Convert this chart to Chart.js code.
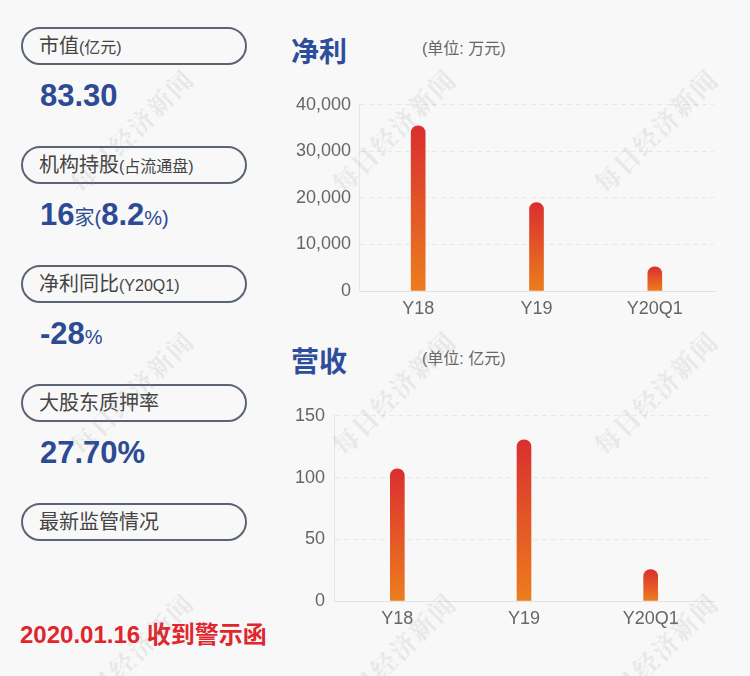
<!DOCTYPE html>
<html><head><meta charset="utf-8">
<script src="https://cdn.jsdelivr.net/npm/chart.js@4/dist/chart.umd.min.js"></script>
<style>
html,body{margin:0;padding:0;}
body{width:750px;height:676px;background:#f8f8f8;position:relative;overflow:hidden;font-family:"Liberation Sans","Noto Sans CJK SC",sans-serif;}
.pill{position:absolute;left:21px;width:222px;height:34px;border:2px solid #5b6474;border-radius:19px;box-sizing:content-box;}
.pill span.t{position:absolute;left:16px;top:0;line-height:34px;font-size:20px;color:#444;white-space:nowrap;}
.pill small{font-size:16px;}
.val{position:absolute;left:40px;color:#2d4a94;font-weight:bold;font-size:31px;white-space:nowrap;line-height:36px;}
.val .s{font-size:20px;font-weight:normal;}
.red{position:absolute;left:20px;top:620px;color:#e0262d;font-weight:bold;font-size:24px;line-height:30px;white-space:nowrap;}
.title{position:absolute;left:291px;font-size:28px;font-weight:bold;color:#2e4d9b;line-height:36px;font-family:"Noto Sans CJK SC",sans-serif;}
.unit{position:absolute;left:422px;font-size:16px;color:#666;line-height:22px;}
.cw{position:absolute;left:280px;width:450px;height:244px;}
.wm{position:absolute;width:200px;height:30px;line-height:30px;text-align:center;font-size:25px;font-weight:bold;color:rgba(140,140,140,0.16);transform:rotate(-45deg);font-family:"Noto Serif CJK SC","Noto Sans CJK SC",serif;pointer-events:none;letter-spacing:2px;z-index:5;}
</style></head>
<body>
<div class="pill" style="top:27px"><span class="t">市值<small>(亿元)</small></span></div>
<div class="val" style="top:78px">83.30</div>
<div class="pill" style="top:146px"><span class="t">机构持股<small>(占流通盘)</small></span></div>
<div class="val" style="top:197px">16<span class="s">家(</span>8.2<span class="s">%)</span></div>
<div class="pill" style="top:265px"><span class="t">净利同比<small>(Y20Q1)</small></span></div>
<div class="val" style="top:316px">-28<span class="s">%</span></div>
<div class="pill" style="top:384px"><span class="t">大股东质押率</span></div>
<div class="val" style="top:435px">27.70%</div>
<div class="pill" style="top:503px"><span class="t">最新监管情况</span></div>
<div class="red">2020.01.16 收到警示函</div>

<div class="title" style="top:32px">净利</div>
<div class="unit" style="top:38px">(单位: 万元)</div>
<div class="title" style="top:342px">营收</div>
<div class="unit" style="top:348px">(单位: 亿元)</div>

<div class="cw" style="top:86px"><canvas id="c1"></canvas></div>
<div class="cw" style="top:396px"><canvas id="c2"></canvas></div>

<div id="wms"></div>
<script>
const categories = ["Y18", "Y19", "Y20Q1"];
const netProfit = [35500, 19000, 5200];      // 万元
const revenue = [107, 130.5, 25.4];          // 亿元
const profitTicks = [0, 10000, 20000, 30000, 40000];
const revenueTicks = [0, 50, 100, 150];

// watermarks
(function(){
  const xs=[131,393,655], ys=[130,392,654];
  const box=document.getElementById('wms');
  xs.forEach(x=>ys.forEach(y=>{
    const d=document.createElement('div');d.className='wm';d.textContent='每日经济新闻';
    d.style.left=(x-100)+'px';d.style.top=(y-15)+'px';box.appendChild(d);
  }));
})();

function grad(ctx){
  const chart=ctx.chart;
  if(!chart.chartArea||!chart.scales.y||ctx.raw===undefined) return '#e05a28';
  const ys=chart.scales.y;
  const top=ys.getPixelForValue(ctx.raw), bot=ys.getPixelForValue(0);
  const g=chart.ctx.createLinearGradient(0,top,0,bot);
  g.addColorStop(0,'#da2f2f');
  g.addColorStop(1,'#ec7d1e');
  return g;
}

function makeChart(id, data, ticks, yWidth, yPad){
  const maxV=ticks[ticks.length-1];
  return new Chart(document.getElementById(id),{
    type:'bar',
    data:{labels:categories,datasets:[{data:data,backgroundColor:grad,barThickness:14,
      borderRadius:{topLeft:7,topRight:7,bottomLeft:0,bottomRight:0},borderSkipped:'bottom'}]},
    options:{
      responsive:true,maintainAspectRatio:false,animation:false,locale:'en-US',
      layout:{padding:{left:0,right:16,top:10,bottom:0}},
      plugins:{legend:{display:false},tooltip:{enabled:false}},
      scales:{
        x:{grid:{display:false,drawTicks:false},border:{display:true,color:'#e2e2e2',width:1},
          ticks:{color:'#666',font:{size:18,family:'"Liberation Sans",sans-serif'},padding:7},
          afterFit:s=>{s.height=39;}},
        y:{min:0,max:maxV,afterBuildTicks:s=>{s.ticks=ticks.map(v=>({value:v}));},
          grid:{color:'#e8e8e8',lineWidth:1,drawTicks:false},
          border:{display:true,color:'#e6e6e6',dash:[5,4]},
          ticks:{color:'#666',font:{size:18,family:'"Liberation Sans",sans-serif'},padding:yPad},
          afterFit:s=>{s.width=yWidth;}}
      }
    }
  });
}
makeChart('c1', netProfit, profitTicks, 79, 8);
makeChart('c2', revenue, revenueTicks, 54, 9);
</script>
</body></html>
